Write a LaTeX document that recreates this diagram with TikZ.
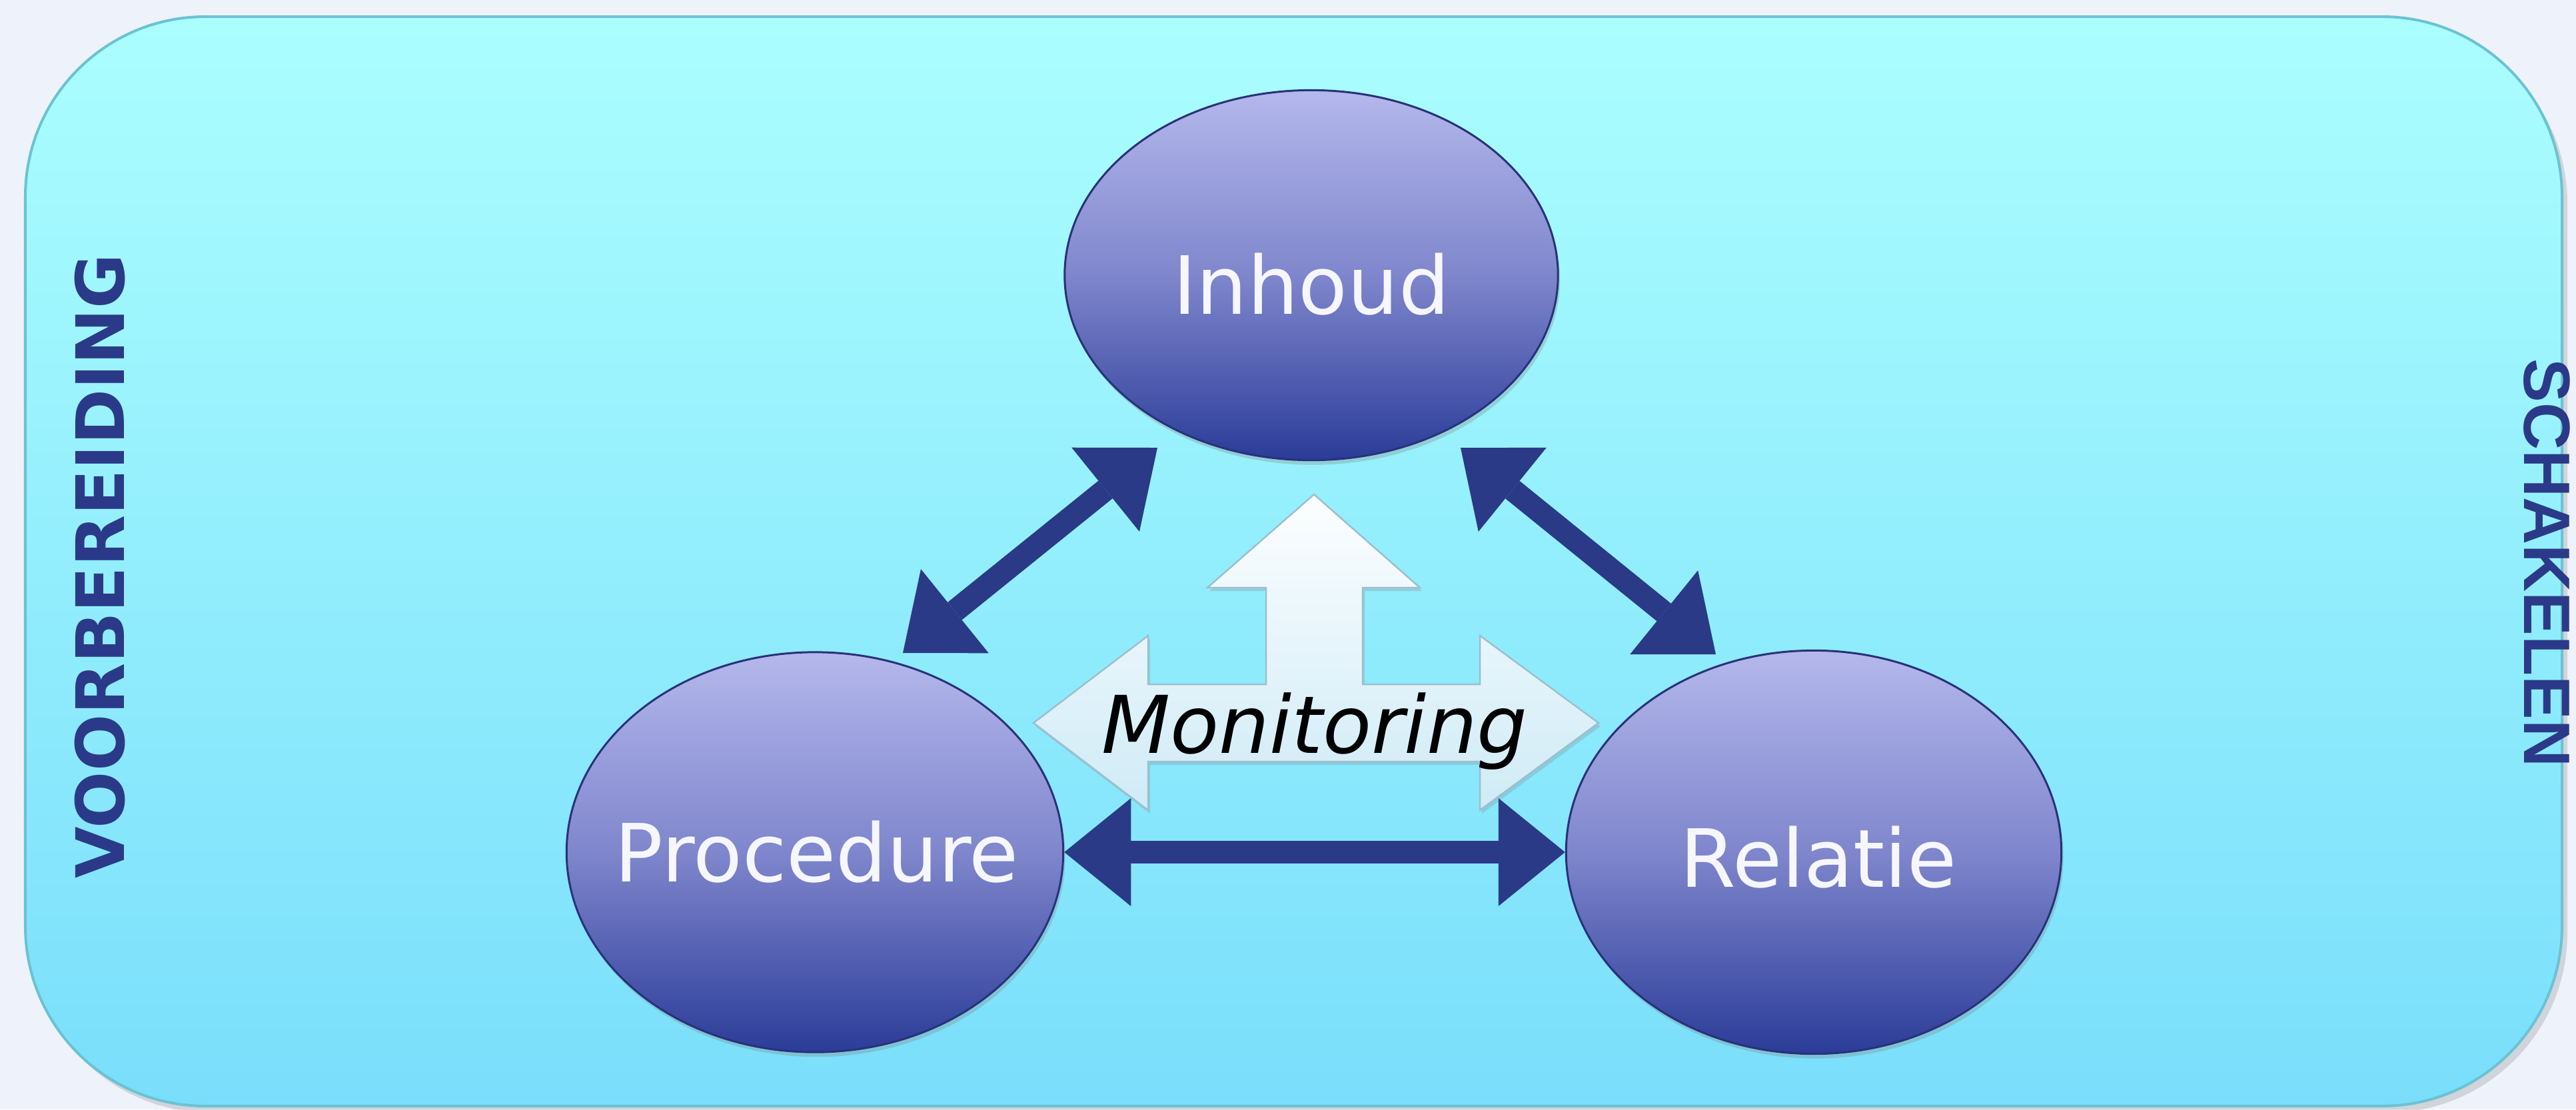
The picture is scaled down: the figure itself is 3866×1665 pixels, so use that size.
\documentclass[tikz,border=0pt]{standalone}
\usepackage{fontspec}
\setmainfont{DejaVu Sans}
\newfontfamily\arialfont{Liberation Sans}
\usetikzlibrary{shapes.geometric,arrows.meta,shadows}

\definecolor{pagebg}{HTML}{EEF2FA}
\definecolor{boxtop}{HTML}{ABFEFE}
\definecolor{boxbot}{HTML}{7ADEFB}
\definecolor{boxline}{HTML}{6AC3D3}
\definecolor{navy}{HTML}{2A3A87}
\definecolor{elltop}{HTML}{B4B8EC}
\definecolor{ellmid}{HTML}{7F86CC}
\definecolor{ellbot}{HTML}{2B3C98}
\definecolor{ellline}{HTML}{28327A}
\definecolor{montop}{HTML}{FCFEFF}
\definecolor{monbot}{HTML}{CFEBF6}
\definecolor{monline}{HTML}{9DBFCE}
\definecolor{sidetext}{HTML}{2B3A88}
\definecolor{labeltext}{HTML}{F6F6FF}

\begin{document}
\begin{tikzpicture}[x=0.01cm, y=-0.01cm,
  topic/.style={ellipse, minimum width=7.45cm, minimum height=5.9cm, inner sep=0pt,
    top color=elltop, bottom color=ellbot, middle color=ellmid, draw=ellline, line width=0.03cm,
    drop shadow={shadow xshift=0.03cm, shadow yshift=-0.07cm, opacity=0.3}},
  topiclabel/.style={text=labeltext, font=\fontsize{34.3}{40}\selectfont, inner sep=0pt},
  link/.style={draw=navy, line width=0.34cm,
    {Triangle[length=1cm,width=1.62cm,line width=0pt]}-{Triangle[length=1cm,width=1.62cm,line width=0pt]}},
  sidelabel/.style={text=sidetext, font=\bfseries\fontsize{28.5}{34}\selectfont, inner sep=0pt},
  monarrow/.style={top color=montop, bottom color=monbot, draw=monline, line width=0.025cm,
    drop shadow={shadow xshift=0.03cm, shadow yshift=-0.05cm, opacity=0.25}},
  montext/.style={font=\itshape\fontsize{34}{40}\selectfont, text=black, inner sep=0pt}
]
\useasboundingbox (0,0) rectangle (3866,1665);
\fill[pagebg] (0,0) rectangle (3866,1665);

% frame
\fill[black, opacity=0.12, rounded corners=2.7cm] (46,35) rectangle (3853,1670);
\draw[boxline, line width=0.04cm, top color=boxtop, bottom color=boxbot, rounded corners=2.7cm]
  (38,25) rectangle (3845,1660);

% side labels
\node[sidelabel, rotate=90] (voorb) at (150,850) {VOORBEREIDING};
\node[sidelabel, rotate=-90, font=\arialfont\bfseries\fontsize{28}{34}\selectfont] (schak) at (3822,845) {SCHAKELEN};

% topics
\node[topic, minimum width=7.4cm, minimum height=5.55cm] (inhoud) at (1968,413) {};
\node[topic, minimum height=6.0cm] (procedure) at (1223,1279) {};
\node[topic, minimum width=7.43cm, minimum height=6.05cm] (relatie) at (2722,1279) {};
\node[topiclabel] (inhoudtxt) at (1968,427) {Inhoud};
\node[topiclabel] (proceduretxt) at (1226,1278) {Procedure};
\node[topiclabel] (relatietxt) at (2729,1286) {Relatie};

% monitoring arrow
\path[monarrow] (1972,742) -- (2131,882) -- (2045,882) -- (2045,1027) -- (2221,1027)
  -- (2221,954) -- (2399,1085) -- (2221,1216) -- (2221,1143) -- (1723,1143)
  -- (1723,1216) -- (1551,1085) -- (1723,954) -- (1723,1027) -- (1900,1027)
  -- (1900,882) -- (1812,882) -- cycle;
\node[montext, anchor=base] (monitoring) at (1973,1130) {Monitoring};

% connectors
\coordinate (pi) at (1355,980);
\coordinate (ip) at (1737,672);
\coordinate (ir) at (2192,672);
\coordinate (ri) at (2575,982);
\draw[link] (pi) -- (ip);
\draw[link] (ir) -- (ri);
\draw[link] (procedure.east) -- (relatie.west);
\end{tikzpicture}
\end{document}
